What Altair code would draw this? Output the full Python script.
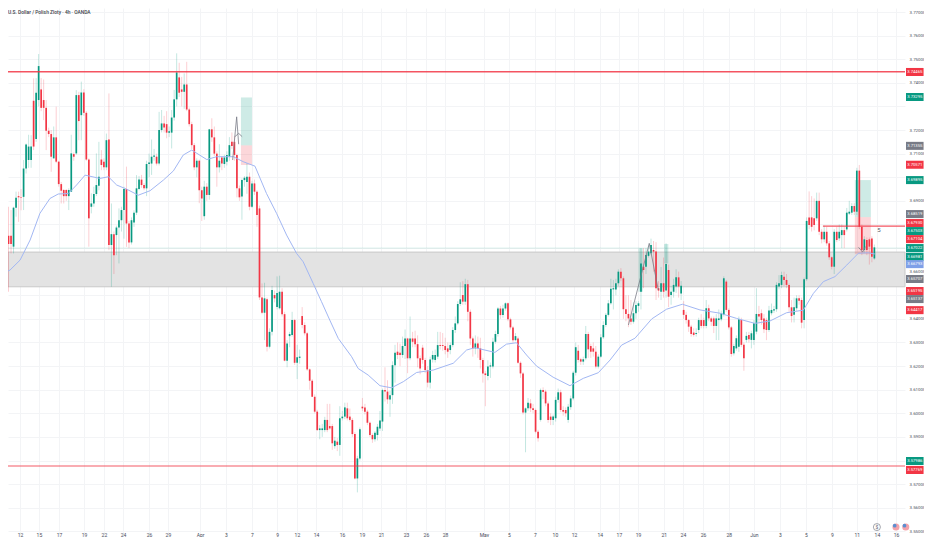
import json
import altair as alt
import pandas as pd

# Prices in units of 0.0001
opens = [36713,36713,36717,36752,36752,36706,36871,36920,36915,36917,
37037,37073,37073,37324,37162,37327,37372,37327,37294,37197,
37183,37080,37169,37066,36971,36946,36946,36920,36939,37098,
37101,37348,37263,37359,37273,37075,36875,36889,36929,36964,
37075,37066,37042,37160,36713,36759,36755,36787,36818,36861,
36950,36804,36724,36808,36850,36950,36990,36967,36953,37056,37058,37087,
37087,37058,37200,37228,37225,37189,37189,37253,37330,37423,37372,
37362,37393,37287,37225,37136,37042,37070,36945,36835,36960,
36925,37203,37169,37100,37042,37084,37056,37066,37087,37150,
37150,37094,36953,36918,36988,36980,37002,36875,36974,36939,
36868,36491,36426,36483,36282,36345,36501,36450,36445,36515,
36420,36223,36327,36332,36395,36214,36235,36412,
36374,36339,36186,36138,36070,36007,35929,35929,35929,
35972,35946,35946,35861,35880,35866,35979,35986,36021,35986,
35972,35912,35724,35809,36028,36025,36007,35960,35908,35890,
35908,35936,35965,36099,36092,36059,36077,36204,36261,36257,
36247,36285,36317,36233,36317,36317,36293,36233,36278,36226,
36183,36130,36228,36226,36240,36289,36289,36285,36275,36268,
36289,36353,36381,36463,36501,36473,36547,36430,36317,36275,
36296,36275,36226,36169,36158,36198,36198,36303,36336,36444,
36416,36444,36466,36398,36364,36310,36317,36214,36169,36003,
36021,36042,36021,36014,35922,
35972,36099,36092,36042,35986,
35972,35979,36057,36089,36014,36014,35972,36026,36063,36172,
36265,36229,36219,36233,36336,36285,36275,36261,36198,36240,
36322,36374,36417,36466,36525,36525,36551,36600,36572,36441,
36421,36402,36388,36424,36455,36515,36621,36621,36667,36678,
36692,36685,36530,36515,36551,36520,36607,36501,36515,36537,
36576,36508,36438,36417,36395,36367,36342,36336,36353,36395,
36395,36370,36445,36402,36402,36370,36395,36398,36417,36558,
36438,36364,36254,36275,36282,36395,36290,36311,36332,36311,
36311,36346,36421,36424,36402,36395,36353,36424,36435,36441,
36537,36544,36579,36565,36544,36449,36417,36445,36487,36480,
36395,36568,36830,36830,36826,36826,36900,36769,36737,36769,
36720,36661,36621,36769,36741,36755,36776,36779,36846,36850,
36878,36854,37028,36790,36692,36734,36737,36741,36656]

closes = [36684,36624,36752,36717,36717,36871,36913,36915,36913,37037,
37139,37130,37130,37130,37358,37471,37294,37294,37197,37183,
37087,37169,37066,36971,36943,36920,36920,36946,37101,37087,
37348,37238,37359,37273,37075,36826,36889,36929,36967,37002,
37052,37042,37157,36713,36759,36670,36787,36818,36861,36950,
36804,36724,36818,36850,36953,36990,36967,36953,37056,37062,37087,37092,
37058,37200,37228,37211,37189,37195,37253,37330,37444,37358,37362,
37393,37287,37225,37136,37042,37070,36945,36910,36960,36925,
37203,37169,37100,37042,37070,37058,37084,37094,37136,37132,
37094,36953,36915,36988,36998,37002,36875,36974,36939,36840,
36491,36426,36487,36282,36345,36522,36487,36510,36515,36420,
36223,36296,36336,36395,36214,36237,36240,36374,
36339,36186,36138,36070,36007,35929,35936,35936,35972,
35929,35936,35873,35884,35866,35979,35986,36025,35979,35972,
35912,35724,35809,35932,36021,36007,35960,35908,35890,35918,
35943,35969,36099,36092,36059,36077,36204,36257,36247,36247,
36285,36317,36233,36317,36303,36293,36233,36190,36226,36183,
36130,36228,36247,36247,36289,36285,36285,36268,36261,36289,
36353,36381,36463,36483,36473,36547,36430,36317,36275,36296,
36275,36226,36169,36162,36198,36203,36303,36336,36444,36416,
36444,36466,36398,36364,36310,36327,36214,36169,36003,36021,
36045,36021,36014,35922,35894,
36099,36090,36042,35972,35972,
35986,36057,36089,36014,36007,36000,36028,36063,36172,36280,
36226,36219,36229,36336,36271,36261,36261,36198,36240,36322,
36374,36417,36466,36528,36530,36551,36600,36572,36441,36421,
36402,36388,36424,36459,36466,36635,36607,36671,36685,36713,
36685,36530,36520,36551,36515,36633,36494,36515,36544,36576,
36537,36540,36417,36395,36367,36336,36332,36340,36395,36370,
36370,36445,36402,36388,36370,36402,36402,36424,36572,36438,
36364,36251,36285,36318,36398,36290,36233,36328,36314,36339,
36381,36421,36410,36395,36356,36353,36435,36438,36441,36544,
36551,36586,36565,36544,36449,36412,36449,36487,36477,36384,
36568,36815,36798,36790,36798,36900,36769,36737,36769,36720,
36661,36621,36769,36734,36769,36776,36755,36850,36854,36878,
36854,37028,36790,36692,36737,36692,36706,36663,36703]

highs = [36769,36748,36889,36875,36861,36875,36939,36939,36950,37073,
37143,37180,37178,37419,37420,37522,37420,37414,37327,37210,
37200,37215,37299,37070,36980,36950,36950,36953,37180,37105,
37369,37362,37405,37373,37280,37080,36932,36960,37101,37150,
37115,37080,37185,37355,36889,36770,36795,36868,36875,36960,
37045,36815,36830,36860,37009,37005,37010,36975,37070,37100,37160,37120,
37100,37277,37285,37260,37280,37215,37285,37370,37525,37485,37425,
37440,37489,37295,37235,37145,37080,37075,36960,36985,36975,
37205,37250,37215,37110,37140,37090,37095,37110,37170,37190,
37175,37100,36965,36995,37005,37060,37020,36985,36990,36945,
36880,36550,36553,36490,36360,36540,36520,36580,36583,36530,
36430,36310,36345,36430,36400,36290,36270,36450,
36385,36345,36190,36145,36080,36015,35950,35955,35985,
36040,36040,35955,35900,35895,36030,36010,36045,36045,36020,
35980,35920,35820,35940,36065,36040,36015,35965,35915,35925,
35955,36010,36105,36195,36140,36095,36220,36290,36300,36295,
36325,36355,36320,36410,36345,36350,36330,36245,36290,36235,
36200,36240,36265,36270,36345,36345,36340,36320,36300,36300,
36365,36410,36475,36555,36560,36570,36565,36440,36325,36330,
36325,36320,36235,36180,36225,36215,36320,36350,36450,36455,
36460,36470,36470,36405,36370,36340,36325,36220,36175,36025,
36065,36060,36040,36020,35930,
36105,36110,36100,36050,36000,
35995,36070,36105,36100,36030,36025,36040,36075,36180,36300,
36290,36235,36240,36370,36345,36295,36300,36285,36250,36335,
36390,36425,36480,36570,36565,36570,36610,36615,36580,36500,
36500,36480,36470,36475,36475,36700,36700,36700,36710,36740,
36730,36725,36560,36620,36660,36720,36630,36540,36570,36610,
36600,36560,36475,36430,36400,36375,36360,36360,36405,36420,
36405,36480,36460,36410,36410,36420,36440,36435,36580,36565,
36445,36370,36295,36330,36410,36405,36300,36345,36345,36350,
36395,36530,36455,36440,36420,36405,36455,36465,36455,36555,
36585,36600,36600,36590,36550,36480,36490,36500,36500,36490,
36575,36830,36940,36920,36910,36935,36935,36780,36795,36790,
36730,36665,36780,36790,36800,36800,36790,36870,36900,36890,
36890,37040,37052,36800,36750,36745,36745,36750,36715]

lows = [36649,36593,36536,36515,36677,36677,36833,36811,36860,36861,
37016,37040,37040,37115,37150,37300,37280,37242,37115,37170,
37023,37080,37060,36960,36889,36889,36900,36861,36939,37070,
37095,37157,37157,37260,37070,36706,36847,36875,36920,36945,
37030,37030,37030,36691,36536,36590,36670,36635,36770,36740,
36705,36700,36715,36790,36840,36945,36955,36945,36920,37000,37010,37070,
37050,37050,37190,37190,37165,37170,37122,37240,37300,37340,37300,
37290,37280,37215,37120,37030,37000,36890,36815,36820,36900,
36905,37150,37090,36960,37020,37030,37040,37050,37070,37120,
37070,36915,36900,36820,36960,36930,36860,36870,36925,36790,
36480,36420,36310,36262,36275,36330,36470,36440,36440,36410,
36220,36195,36280,36325,36205,36145,36210,36360,
36330,36180,36100,36070,36000,35925,35890,35900,35920,
35920,35930,35845,35850,35840,35820,35970,35975,35970,35965,
35900,35720,35665,35800,36010,35995,35950,35900,35875,35880,
35885,35925,35925,36050,36040,35985,36040,36130,36230,36200,
36235,36230,36170,36225,36280,36280,36195,36165,36210,36170,
36110,36105,36215,36215,36230,36270,36265,36250,36235,36250,
36280,36340,36375,36455,36460,36460,36390,36290,36240,36250,
36235,36190,36130,36030,36140,36150,36190,36295,36325,36400,
36405,36435,36390,36355,36300,36305,36210,36150,35995,35835,
36010,36005,36000,35915,35880,
35965,36060,36030,35960,35950,
35950,35965,36045,36005,35990,35985,35960,36015,36055,36160,
36215,36205,36205,36225,36235,36235,36240,36190,36190,36235,
36315,36365,36410,36460,36440,36500,36540,36560,36400,36390,
36365,36375,36380,36400,36430,36440,36530,36590,36660,36670,
36600,36480,36490,36480,36490,36490,36450,36460,36490,36510,
36490,36480,36400,36380,36345,36325,36325,36325,36340,36360,
36360,36360,36390,36370,36340,36310,36310,36390,36410,36430,
36355,36240,36245,36265,36260,36280,36180,36300,36300,36275,
36290,36335,36380,36375,36340,36310,36345,36415,36425,36430,
36525,36530,36540,36530,36430,36385,36385,36435,36460,36360,
36360,36560,36780,36770,36775,36815,36755,36720,36725,36710,
36650,36610,36590,36725,36730,36700,36700,36770,36840,36840,
36840,36840,36780,36670,36680,36670,36630,36640,36650]

ma_bar = [1,4.6,8.6,12.6,16.5,20.5,23.8,27.8,31.1,34.5,40.4,43.8,47.1,51,55.7,60.4,65.7,69.7,73.6,77,83,86.9,93.6,97.5,102.2,106.8,110.8,114.8,118.8,
121.4,125.4,128.7,132,135.4,140.7,143.3,147.3,152,156.6,161.3,166.6,173.2,181.2,186.5,189.8,197.8,202.4,206.4,210.4,214.4,
221,227.7,233,239,243.7,248.3,253.6,260.3,266.2,272.5,279.5,287.5,294.1,301.4,307.4,314,320.7,324.7,328.7,333.3,338,342.6,346.6,349.2]
ma_val = [36588,36607,36649,36734,36847,36910,36929,36931,36967,37009,36995,37002,36967,36950,36924,36943,36988,37027,37094,37115,37075,37087,37087,37066,37047,36931,36847,36755,36677,
36642,36550,36473,36395,36317,36240,36190,36162,36117,36108,36134,36173,36183,36212,36268,36278,36258,36293,36299,36247,36200,
36153,36117,36148,36172,36226,36289,36318,36400,36441,36462,36438,36424,36402,36381,36391,36426,36437,36508,36558,36579,36628,36678,36680,36675]

x_ticks = [8.57,16.1,24.1,34.1,42.0,49.6,60.0,67.5,80.3,90.6,101,111,118.9,126.5,136.9,144.8,152.4,162.4,170.3,177.9,193.4,203.4,213.7,221.7,229.3,239.6,247.2,254.8,265.1,272.7,280.7,291,301,311.4,321.7,332.1,342,350,357.6]
x_labels = ["12","15","17","19","22","24","26","29","Apr","3","7","9","12","14","16","19","21","23","26","28","May","5","7","10","12","14","17","19","21","24","26","28","Jun","3","5","9","11","14","16"]

y_ticks = [3.55,3.56,3.57,3.58,3.59,3.60,3.61,3.62,3.63,3.64,3.65,3.66,3.67,3.68,3.69,3.70,3.71,3.72,3.73,3.74,3.75,3.76,3.77]
y_hidden = [3.58,3.65,3.67,3.68,3.70,3.73]

tag_labels = ["3.74465","3.73295","3.71355","3.70571","3.69895","3.68519","3.67930","3.67503","3.67104","3.67022","3.66981","3.66793","3.65707","3.65195","3.65137","3.64417","3.57986","3.57769"]
tag_pos = [37446,37340,37133,37053,36988,36844,36806,36772,36738,36700,36663,36632,36569,36518,36484,36437,35798,35760]
tag_colors = ["#f23645","#089981","#787b86","#f23645","#089981","#787b86","#f23645","#089981","#f23645","#089981","#089981","#7fa0e8","#787b86","#f23645","#787b86","#f23645","#089981","#f23645"]

X_MIN, X_MAX = 3.79, 361.2
xs = alt.Scale(domain=[X_MIN, X_MAX], nice=False, zero=False)
ys = alt.Scale(domain=[3.5476, 3.7717], nice=False, zero=False)

hidden_expr = json.dumps([f"{v:.5f}" for v in y_hidden])
AX = alt.Axis(
    values=x_ticks, grid=True, gridColor="#f3f4f6", gridWidth=1, ticks=False, domain=False,
    labelFontSize=5, labelColor="#4a4e5a", labelFont="Roboto", labelPadding=-5, title=None,
    labelAngle=0, labelOverlap=False, labelBaseline="top",
    labelExpr=f"{json.dumps(x_labels)}[indexof({json.dumps(x_ticks)}, datum.value)]")
AY = alt.Axis(
    orient="right", values=y_ticks, grid=True, gridColor="#f3f4f6", gridWidth=1, ticks=False, domain=False,
    labelFontSize=4.4, labelColor="#4a4e5a", labelFont="Roboto", labelPadding=4, title=None, labelOverlap=False,
    labelExpr=f"indexof({hidden_expr}, format(datum.value, '.5f')) >= 0 ? '' : format(datum.value, '.5f')")

X = alt.X("x:Q", scale=xs, axis=AX)
X2 = alt.X2("x2:Q")
Y = alt.Y("y:Q", scale=ys, axis=AY)
Y2 = alt.Y2("y2:Q")

UP, DOWN = "#089981", "#f23645"
bars = pd.DataFrame({
    "x": range(1, len(opens) + 1),
    "o": [v / 10000 for v in opens],
    "c": [v / 10000 for v in closes],
    "h": [v / 10000 for v in highs],
    "l": [v / 10000 for v in lows],
})
bars["col"] = [UP if c >= o else DOWN for o, c in zip(opens, closes)]

zone = alt.Chart(pd.DataFrame({"x": [X_MIN], "x2": [X_MAX], "y": [3.6683], "y2": [3.6536]})).mark_rect(
    fill="#e3e3e3", stroke="#c9c9c9", strokeWidth=1
).encode(x=X, x2=X2, y=Y, y2=Y2)

def hline(price, x1, x2, color, width, opacity=1.0):
    return alt.Chart(pd.DataFrame({"x": [x1], "x2": [x2], "y": [price]})).mark_rule(
        color=color, strokeWidth=width, opacity=opacity).encode(x=X, x2=X2, y=Y)

def box(x1, x2, p1, p2, color, opacity):
    return alt.Chart(pd.DataFrame({"x": [x1], "x2": [x2], "y": [p1], "y2": [p2]})).mark_rect(
        fill=color, opacity=opacity).encode(x=X, x2=X2, y=Y, y2=Y2)

def path(xs_, ps, color="#787b86", width=0.8):
    df = pd.DataFrame({"x": xs_, "y": [p / 10000 for p in ps], "k": range(len(xs_))})
    return alt.Chart(df).mark_line(color=color, strokeWidth=width).encode(x=X, y=Y, order="k:Q")

wicks = alt.Chart(bars).mark_rule(strokeWidth=1, opacity=0.24).encode(
    x=X, y=alt.Y("h:Q", scale=ys, axis=AY), y2="l:Q",
    color=alt.Color("col:N", scale=None, legend=None))
bodies = alt.Chart(bars).mark_rule(strokeWidth=1.7).encode(
    x=X, y=alt.Y("o:Q", scale=ys, axis=AY), y2="c:Q",
    color=alt.Color("col:N", scale=None, legend=None))

ma = path(ma_bar, ma_val, color="#a2b7f3", width=1)

tags = pd.DataFrame({"label": tag_labels, "col": tag_colors, "p": [v / 10000 for v in tag_pos]})
tags["x"] = 361.6
tags["x2"] = 368.6
tags["xm"] = 365.1
tags["y"] = tags["p"] + 0.0017
tags["y2"] = tags["p"] - 0.0017
tag_rects = alt.Chart(tags).mark_rect().encode(x=X, x2=X2, y=Y, y2=Y2, color=alt.Color("col:N", scale=None, legend=None))
tag_texts = alt.Chart(tags).mark_text(color="white", fontSize=4.2, font="Roboto").encode(
    x=alt.X("xm:Q", scale=xs, axis=AX), y=alt.Y("p:Q", scale=ys, axis=AY), text="label:N")

title = alt.Chart(pd.DataFrame({"x": [X_MIN], "y": [3.7696], "t": ["U.S. Dollar / Polish Zloty · 4h · OANDA"]})).mark_text(
    align="left", fontSize=4.9, font="Roboto", fontWeight=500, color="#3a3e4a").encode(x=X, y=Y, text="t:N")
five = alt.Chart(pd.DataFrame({"x": [350.8], "y": [3.6776], "t": ["5"]})).mark_text(
    fontSize=6, font="Roboto", color="#555a66").encode(x=X, y=Y, text="t:N")

circle_icon = alt.Chart(pd.DataFrame({"x": [350], "y": [3.5518]})).mark_point(
    shape="circle", size=50, filled=True, fill="white", stroke="#6a6d78", strokeWidth=0.6, opacity=1).encode(x=X, y=Y)
dollar = alt.Chart(pd.DataFrame({"x": [350], "y": [3.5518], "t": ["$"]})).mark_text(
    fontSize=5, font="Roboto", color="#555a66").encode(x=X, y=Y, text="t:N")
flags = alt.Chart(pd.DataFrame({"x": [357.6, 361.5], "y": [3.5518, 3.5518]})).mark_point(
    shape="circle", size=50, filled=True, fill="#f4a3ab", opacity=1).encode(x=X, y=Y)
flag_corners = alt.Chart(pd.DataFrame({"x": [357.1, 361.0], "y": [3.5524, 3.5524]})).mark_point(
    shape="circle", size=14, filled=True, fill="#5b8fd0", opacity=1).encode(x=X, y=Y)

chart = alt.layer(
    zone,
    hline(3.6700, X_MIN, X_MAX, UP, 1, 0.15),
    box(96.6, 101.0, 3.7338, 3.7135, UP, 0.2),
    box(96.6, 101.0, 3.7135, 3.7052, DOWN, 0.2),
    box(341.2, 347.6, 3.6988, 3.6831, UP, 0.2),
    box(341.2, 347.6, 3.6831, 3.6674, DOWN, 0.2),
    box(255.0, 256.7, 3.6699, 3.6515, UP, 0.2),
    box(265.2, 266.9, 3.6717, 3.6635, UP, 0.2),
    wicks,
    bodies,
    ma,
    hline(3.7447, X_MIN, X_MAX, DOWN, 1.4, 0.85),
    hline(3.5777, X_MIN, X_MAX, DOWN, 1.4, 0.55),
    hline(3.6793, 328.5, X_MAX, DOWN, 1.2, 0.85),
    path([93.3, 94.9, 95.7], [37073, 37256, 37140]),
    path([94.2, 95.7, 97.1], [37172, 37186, 37172]),
    path([251, 259.3, 262.9], [36374, 36720, 36522]),
    path([342.7, 344.3, 345.4], [36703, 36683, 36706]),
    five,
    title,
    circle_icon, dollar, flags, flag_corners,
    tag_rects, tag_texts,
).properties(
    width=897, height=529,
    padding={"left": 0, "top": 0, "right": 19, "bottom": 0},
    autosize=alt.AutoSizeParams(type="none"),
    background="white",
).configure_view(stroke=None)

chart.save("out.html", embed_options={"renderer": "svg", "actions": False})
